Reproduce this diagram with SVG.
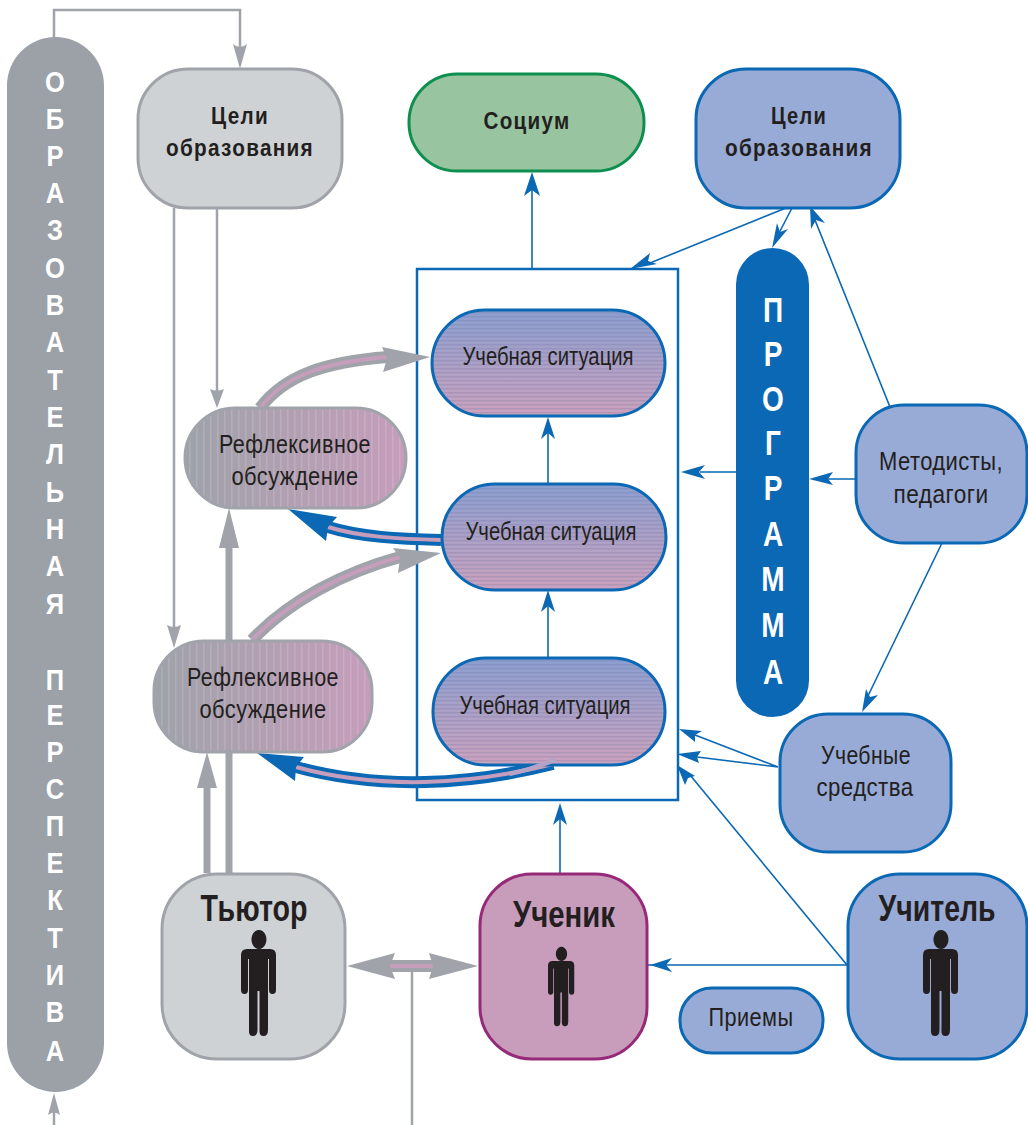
<svg xmlns="http://www.w3.org/2000/svg" width="1028" height="1125" viewBox="0 0 1028 1125">
<style>
text{font-family:"Liberation Sans",Arial,sans-serif;fill:#231f20;text-anchor:middle}
.v{font-weight:700;font-size:30px;fill:#fff}
.p{font-weight:700;font-size:35px;fill:#fff}
.b{font-weight:700;font-size:24px;letter-spacing:1.500px}
.r{font-size:25px;letter-spacing:.5px}
.s{font-size:25px}
.h{font-weight:700;font-size:36px}
.bl{fill:none;stroke:#0a68b4;stroke-width:1.600}
.gl{fill:none;stroke:#a0a4aa;stroke-width:2.500}
.gt{fill:none;stroke:#a0a4aa;stroke-width:7}
.blue{fill:#98aad6;stroke:#0a68b4;stroke-width:3}
.grey{fill:#ced2d5;stroke:#a0a4aa;stroke-width:3}
.sit{fill:url(#gs)}
.sit2{fill:url(#hs);stroke:#0a68b4;stroke-width:3}
.ref{fill:url(#gr)}
.ref2{fill:url(#vs);stroke:#a0a4aa;stroke-width:3}
.ha{fill:#0a68b4}
.hg{fill:#a0a4aa}
.og{fill:none;stroke:#a0a4aa;stroke-width:12}
.ob{fill:none;stroke:#0a68b4;stroke-width:12}
.pk{fill:none;stroke:#c69dbb;stroke-width:4}
</style>
<defs>
<linearGradient id="gs" x1="0" y1="0" x2="0" y2="1"><stop offset="0" stop-color="#8b9fd0"/><stop offset="1" stop-color="#cba2bd"/></linearGradient>
<linearGradient id="gr" x1="0" y1="0" x2="1" y2="0"><stop offset="0" stop-color="#9ea2a9"/><stop offset="1" stop-color="#c69dbb"/></linearGradient>
<pattern id="hs" width="10" height="4" patternUnits="userSpaceOnUse"><rect width="10" height="1.500" fill="#6a6a9c" fill-opacity=".22"/></pattern>
<pattern id="vs" width="7" height="10" patternUnits="userSpaceOnUse"><rect width="1.500" height="10" fill="#fff" fill-opacity=".14"/></pattern>
<path id="p" d="M18 1a7.500 9.500 0 1 1-.1 0zM6 20H29Q35 20 35 26V61Q35 65 31.500 65T28 61V30H27V101Q27 107 22.500 107T18.500 101V62H16.500V101Q16.500 107 12 107T8 101V30H7V61Q7 65 3.500 65T0 61V26Q0 20 6 20z"/>
</defs>

<g id="frame"><rect x="417" y="269" width="261" height="531" fill="none" stroke="#0a68b4" stroke-width="2.500"/></g>

<g id="connectors">
<path class="gl" d="M54 38V10H240V62"/>
<path class="gl" d="M54 1100V1126.200H412V968"/>
<path class="gl" d="M174 208V640"/>
<path class="gl" d="M217 208V395"/>
<path class="gt" d="M229 873V535"/>
<path class="gt" d="M207 873V775"/>
<path class="hg" d="M229 508L239 548H219z"/>
<path class="hg" d="M207 752L217 788H197z"/>
<path class="hg" d="M217 408L210 389Q217 392 224 389z"/>
<path class="hg" d="M174 648L167 625Q174 629 181 625z"/>
<path class="hg" d="M240 69L233 44Q240 50 247 44z"/>
<path class="hg" d="M54 1093L48 1115Q54 1110 60 1115z"/>

<path class="og" d="M260 408C285 375 325 362 388 357"/>
<path class="pk" d="M260 408C285 375 325 362 388 357"/>
<path class="hg" d="M430 357L382 347L387 359L383 372z"/>
<path class="og" d="M252 640C290 600 345 572 400 557"/>
<path class="pk" d="M252 640C290 600 345 572 400 557"/>
<path class="hg" d="M441 553L393 548L400 558L398 573z"/>
<path class="ob" d="M441 540C400 539 360 537 328 527"/>
<path class="pk" d="M441 540C400 539 360 537 328 527"/>
<path class="ha" d="M288 509L337 517L328 527L326 541z"/>
<path class="ob" d="M553 764C470 785 380 790 296 767"/>
<path class="pk" d="M553 764C470 785 380 790 296 767"/>
<path class="ha" d="M257 753L304 757L296 767L295 781z"/>
<path class="og" d="M390 966H436"/>
<path class="pk" d="M390 966H433"/>
<path class="hg" d="M347 966L395 953L390 966L395 979zM478 966L429 953L433 966L429 979z"/>

<path class="bl" d="M532 268V180M548 484V425M548 657V597M560 873V812M647 965H848M700 472H736M825 479H856M778 767L695 735M778 767L697 757M847 965L690 775M890 407L815 220M942 543L866 700M786 208L645 265M792 208L778 235"/>
<path class="ha" d="M532 172L524 196L532 190L540 196zM548 417L541 439L548 433L555 439zM548 590L541 612L548 606L555 612zM560 803L553 825L560 819L567 825zM650 965L672 958L666 965L672 972zM681 472L705 465L699 472L705 479zM809 479L833 472L828 479L833 485zM679 729L702 731L695 735L695 742zM677 754L701 751L697 757L699 763zM677 765L695 776L688 778L685 785zM810 206L825 223L816 220L811 229zM862 712L866 689L870 697L878 695zM772 248L777 223L780 232L788 229zM630 269L650 253L648 261L657 264z"/>
</g>

<g id="perspective">
<rect x="7" y="37" width="97" height="1055" rx="48.500" fill="#9ca1a8"/>
<g transform="translate(55 0) scale(.85 1)">
<text class="v" y="92">О</text><text class="v" y="129">Б</text><text class="v" y="166">Р</text><text class="v" y="203">А</text><text class="v" y="240">З</text><text class="v" y="278">О</text><text class="v" y="315">В</text><text class="v" y="352">А</text><text class="v" y="390">Т</text><text class="v" y="427">Е</text><text class="v" y="464">Л</text><text class="v" y="502">Ь</text><text class="v" y="539">Н</text><text class="v" y="576">А</text><text class="v" y="614">Я</text><text class="v" y="690">П</text><text class="v" y="725">Е</text><text class="v" y="762">Р</text><text class="v" y="799">С</text><text class="v" y="836">П</text><text class="v" y="873">Е</text><text class="v" y="910">К</text><text class="v" y="948">Т</text><text class="v" y="985">И</text><text class="v" y="1022">В</text><text class="v" y="1061">А</text>
</g></g>

<g id="goals-tutor"><rect class="grey" x="138" y="69" width="204" height="139" rx="50"/>
<text class="b" x="240" y="124" textLength="58" lengthAdjust="spacingAndGlyphs">Цели</text><text class="b" x="240" y="156" textLength="148" lengthAdjust="spacingAndGlyphs">образования</text></g>
<g id="socium"><rect x="409" y="74" width="235" height="97" rx="48" fill="#98c49f" stroke="#0c8f4f" stroke-width="3"/>
<text class="b" x="527" y="129" textLength="87" lengthAdjust="spacingAndGlyphs">Социум</text></g>
<g id="goals-teacher"><rect class="blue" x="696" y="69" width="204" height="139" rx="50"/>
<text class="b" x="799" y="124" textLength="56" lengthAdjust="spacingAndGlyphs">Цели</text><text class="b" x="799" y="156" textLength="148" lengthAdjust="spacingAndGlyphs">образования</text></g>

<g id="program"><rect x="736" y="248" width="73" height="469" rx="36.500" fill="#0a68b4"/>
<g transform="translate(773 0) scale(.8 1)">
<text class="p" y="322">П</text><text class="p" y="366">Р</text><text class="p" y="411">О</text><text class="p" y="455">Г</text><text class="p" y="500">Р</text><text class="p" y="546">А</text><text class="p" y="591">М</text><text class="p" y="637">М</text><text class="p" y="684">А</text>
</g></g>

<g id="situation-1"><rect class="sit" x="432" y="310" width="233" height="106" rx="53"/><rect class="sit2" x="432" y="310" width="233" height="106" rx="53"/><text class="s" x="548" y="365" textLength="171" lengthAdjust="spacingAndGlyphs">Учебная ситуация</text></g>
<g id="situation-2"><rect class="sit" x="442" y="484" width="224" height="106" rx="53"/><rect class="sit2" x="442" y="484" width="224" height="106" rx="53"/><text class="s" x="551" y="540" textLength="171" lengthAdjust="spacingAndGlyphs">Учебная ситуация</text></g>
<g id="situation-3"><rect class="sit" x="433" y="658" width="232" height="107" rx="53"/><rect class="sit2" x="433" y="658" width="232" height="107" rx="53"/><text class="s" x="545" y="714" textLength="171" lengthAdjust="spacingAndGlyphs">Учебная ситуация</text></g>

<g id="reflex-1"><rect class="ref" x="185" y="408" width="221" height="100" rx="50"/><rect class="ref2" x="185" y="408" width="221" height="100" rx="50"/><text class="r" x="295" y="453" textLength="152" lengthAdjust="spacingAndGlyphs">Рефлексивное</text><text class="r" x="295" y="485" textLength="127" lengthAdjust="spacingAndGlyphs">обсуждение</text></g>
<g id="reflex-2"><rect class="ref" x="154" y="641" width="218" height="111" rx="50"/><rect class="ref2" x="154" y="641" width="218" height="111" rx="50"/><text class="r" x="263" y="686" textLength="152" lengthAdjust="spacingAndGlyphs">Рефлексивное</text><text class="r" x="263" y="718" textLength="127" lengthAdjust="spacingAndGlyphs">обсуждение</text></g>

<g id="methodists"><rect class="blue" x="856" y="405" width="171" height="138" rx="48"/><text class="r" x="941" y="470" textLength="124" lengthAdjust="spacingAndGlyphs">Методисты,</text><text class="r" x="941" y="503" textLength="95" lengthAdjust="spacingAndGlyphs">педагоги</text></g>
<g id="means"><rect class="blue" x="780" y="714" width="171" height="138" rx="48"/><text class="r" x="866" y="764" textLength="90" lengthAdjust="spacingAndGlyphs">Учебные</text><text class="r" x="865" y="796" textLength="97" lengthAdjust="spacingAndGlyphs">средства</text></g>
<g id="tutor"><rect class="grey" x="162" y="874" width="183" height="185" rx="55"/><text class="h" x="254" y="921" textLength="107" lengthAdjust="spacingAndGlyphs">Тьютор</text><use href="#p" x="241" y="929" fill="#231f20"/></g>
<g id="student"><rect x="480" y="874" width="167" height="185" rx="52" fill="#c89cbb" stroke="#962a78" stroke-width="3"/><text class="h" x="564" y="927" textLength="102" lengthAdjust="spacingAndGlyphs">Ученик</text><use href="#p" transform="translate(548 946) scale(.75)" fill="#231f20"/></g>
<g id="teacher"><rect class="blue" x="848" y="874" width="179" height="185" rx="52"/><text class="h" x="937" y="921" textLength="117" lengthAdjust="spacingAndGlyphs">Учитель</text><use href="#p" x="923" y="929" fill="#231f20"/></g>
<g id="techniques"><rect class="blue" x="680" y="988" width="143" height="65" rx="32"/><text class="r" x="751" y="1026" textLength="85" lengthAdjust="spacingAndGlyphs">Приемы</text></g>

<g id="connectors-top"><path d="M510 772Q535 766 555 757L556 762Q530 772 510 776z" fill="#b7a3c6"/></g>
</svg>
